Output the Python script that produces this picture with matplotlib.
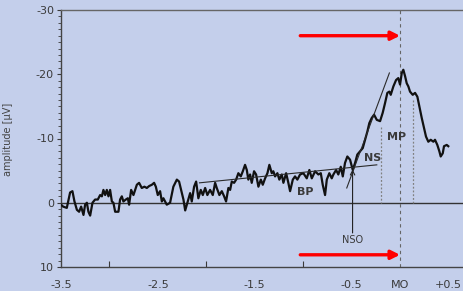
import matplotlib.pyplot as plt
from matplotlib.ticker import MultipleLocator

# ---------- data ----------
time_s = [
    -3.500, -3.478, -3.440, -3.406, -3.382, -3.361, -3.336, -3.313, -3.292, -3.268,
    -3.251, -3.233, -3.217, -3.199, -3.175, -3.148, -3.120, -3.096, -3.078, -3.062,
    -3.044, -3.027, -3.010, -2.993, -2.975, -2.959, -2.941, -2.907, -2.890, -2.872,
    -2.856, -2.831, -2.810, -2.797, -2.776, -2.752, -2.717, -2.694, -2.666, -2.639,
    -2.614, -2.590, -2.562, -2.539, -2.521, -2.501, -2.477, -2.459, -2.443, -2.408,
    -2.374, -2.340, -2.304, -2.281, -2.260, -2.236, -2.218, -2.195, -2.167, -2.150,
    -2.126, -2.105, -2.082, -2.057, -2.036, -2.012, -1.989, -1.961, -1.933, -1.909,
    -1.892, -1.865, -1.840, -1.816, -1.796, -1.772, -1.754, -1.737, -1.713, -1.692,
    -1.669, -1.644, -1.623, -1.600, -1.582, -1.566, -1.548, -1.531, -1.507, -1.486,
    -1.462, -1.437, -1.417, -1.393, -1.369, -1.349, -1.324, -1.308, -1.290, -1.266,
    -1.246, -1.221, -1.204, -1.176, -1.153, -1.135, -1.107, -1.084, -1.060, -1.032,
    -0.998, -0.963, -0.936, -0.911, -0.877, -0.843, -0.818, -0.798, -0.774, -0.756,
    -0.730, -0.705, -0.688, -0.660, -0.637, -0.612, -0.591, -0.568, -0.544, -0.516,
    -0.488, -0.464, -0.441, -0.413, -0.385, -0.361, -0.337, -0.317, -0.292, -0.268,
    -0.240, -0.206, -0.179, -0.155, -0.131, -0.110, -0.096, -0.069, -0.041, -0.018,
    0.000, 0.018, 0.034, 0.052, 0.069, 0.086, 0.103, 0.131, 0.155, 0.179,
    0.199, 0.224, 0.248, 0.268, 0.292, 0.317, 0.344, 0.361, 0.385, 0.406,
    0.420, 0.441, 0.454, 0.482, 0.498,
]
amplitude = [
    0.3, 0.6, 0.8, -1.6, -1.8, -0.2, 1.1, 1.4, 0.6, 1.9,
    0.3, 0.0, 1.4, 2.0, 0.0, -0.5, -0.5, -1.2, -1.0, -2.0,
    -1.2, -2.0, -1.0, -2.0, -0.2, 0.0, 1.4, 1.4, -0.5, -1.0,
    -0.2, -0.5, -0.7, 0.3, -2.0, -1.2, -2.8, -3.1, -2.3, -2.5,
    -2.3, -2.6, -2.8, -3.1, -2.5, -1.2, -1.8, -0.2, -0.7, 0.3,
    0.0, -2.5, -3.6, -3.3, -2.0, -0.5, 1.2, 0.0, -1.5, -0.2,
    -2.5, -3.3, -0.7, -2.0, -1.2, -2.3, -1.2, -2.0, -1.2, -3.1,
    -2.3, -1.2, -1.8, -1.0, -0.2, -2.3, -2.0, -3.3, -3.1, -3.6,
    -4.6, -4.1, -4.9, -5.9, -5.1, -3.6, -4.4, -3.1, -4.9, -4.4,
    -2.5, -3.6, -2.8, -3.8, -4.6, -5.9, -4.6, -4.9, -4.1, -4.6,
    -3.6, -4.4, -3.1, -4.6, -3.1, -1.8, -3.6, -4.1, -3.6, -4.4,
    -4.6, -3.8, -5.1, -3.8, -4.9, -4.4, -4.6, -2.8, -1.2, -3.6,
    -4.6, -3.8, -4.4, -5.1, -4.4, -5.6, -4.1, -6.2, -7.2, -6.7,
    -5.1, -6.2, -7.5, -8.0, -8.5, -9.8, -11.1, -12.4, -13.2, -13.7,
    -12.9, -12.7, -14.0, -15.5, -17.1, -17.3, -16.8, -18.1, -19.1, -19.4,
    -18.4, -20.2, -20.7, -19.7, -18.6, -18.1, -17.3, -16.8, -17.1, -16.5,
    -15.0, -13.2, -11.6, -10.3, -9.5, -9.8, -9.5, -9.8, -9.0, -8.0,
    -7.2, -7.7, -8.8, -9.0, -8.8,
]

# fitted lines drawn on top of the trace
bp_fit_x = [-2.07, -0.24]
bp_fit_y = [-3.1, -5.9]
ns_fit_x = [-0.55, -0.11]
ns_fit_y = [-2.3, -20.2]

# dotted markers bounding MP, NSO arrow, red arrows
mp_bounds_x = [-0.20, 0.13]
mp_bounds_top = [-11.8, -16.0]
nso_x = -0.49
nso_from, nso_to = 4.7, -5.2
red_arrow_y = [-26.0, 8.1]
red_arrow_start = -1.03

ytick_vals = [-30, -20, -10, 0, 10]
xtick_vals = [-3.5, -2.5, -1.5, -0.5, 0, 0.5]
xtick_labels = ['-3.5', '-2.5', '-1.5', '-0.5', 'MO', '+0.5']
xminor_vals = [-3, -2, -1]

bg = '#c4cfeb'
ink = '#3a3a3a'

fig = plt.figure(figsize=(4.63, 2.91), dpi=100, facecolor=bg)
ax = fig.add_axes([61 / 463, 24 / 291, 402 / 463, 257 / 291], facecolor=bg)

ax.axhline(0, color='#333333', lw=1.0, zorder=1)
ax.axvline(0, color='#666666', lw=0.8, ls=(0, (3, 3)), zorder=1)
for bx, top in zip(mp_bounds_x, mp_bounds_top):
    ax.plot([bx, bx], [top, 0], color='#808080', lw=0.9, ls=(0, (1.5, 1.5)), zorder=1)

ax.plot(time_s, amplitude, color='#111111', lw=1.6, zorder=3)
ax.plot(bp_fit_x, bp_fit_y, color='#2a2a2a', lw=0.8, zorder=4)
ax.plot(ns_fit_x, ns_fit_y, color='#2a2a2a', lw=0.8, zorder=4)

ax.annotate('', xy=(nso_x, nso_to), xytext=(nso_x, nso_from),
            arrowprops=dict(arrowstyle='->', color='#222222', lw=0.8,
                            mutation_scale=8, shrinkA=0, shrinkB=0), zorder=4)

for ry in red_arrow_y:
    ax.annotate('', xy=(0, ry), xytext=(red_arrow_start, ry),
                arrowprops=dict(arrowstyle='-|>', color='#ff0000', lw=2.4,
                                mutation_scale=13, shrinkA=0, shrinkB=0), zorder=5)

ax.text(-0.98, -1.6, 'BP', fontsize=8, fontweight='bold', color=ink, ha='center', va='center')
ax.text(-0.28, -7.0, 'NS', fontsize=8, fontweight='bold', color=ink, ha='center', va='center')
ax.text(-0.04, -10.3, 'MP', fontsize=8, fontweight='bold', color=ink, ha='center', va='center')
ax.text(-0.49, 5.8, 'NSO', fontsize=7, color=ink, ha='center', va='center')

ax.set_xlim(-3.5, 0.65)
ax.set_ylim(10, -30)

ax.set_yticks(ytick_vals)
ax.set_yticklabels([str(v) for v in ytick_vals])
ax.yaxis.set_minor_locator(MultipleLocator(1))
ax.tick_params(axis='y', which='major', direction='out', length=3, width=0.8,
               colors=ink, labelsize=8, pad=2)
ax.tick_params(axis='y', which='minor', direction='out', length=2, width=0.6, color=ink)

ax.set_xticks(xtick_vals)
ax.set_xticklabels(xtick_labels)
ax.set_xticks(xminor_vals, minor=True)
ax.tick_params(axis='x', which='major', length=0, colors=ink, labelsize=8, pad=9)
ax.tick_params(axis='x', which='minor', direction='in', length=4, width=0.8, color=ink)

for side in ['left', 'bottom']:
    ax.spines[side].set_color('#444444')
    ax.spines[side].set_linewidth(1.0)
ax.spines['top'].set_color('#666666')
ax.spines['top'].set_linewidth(1.0)
ax.spines['right'].set_visible(False)

fig.text(8 / 463, 1 - 139 / 291, 'amplitude [μV]', rotation=90, fontsize=7,
         color='#444444', ha='center', va='center')

fig.savefig('out.png', dpi=100, facecolor=bg)
